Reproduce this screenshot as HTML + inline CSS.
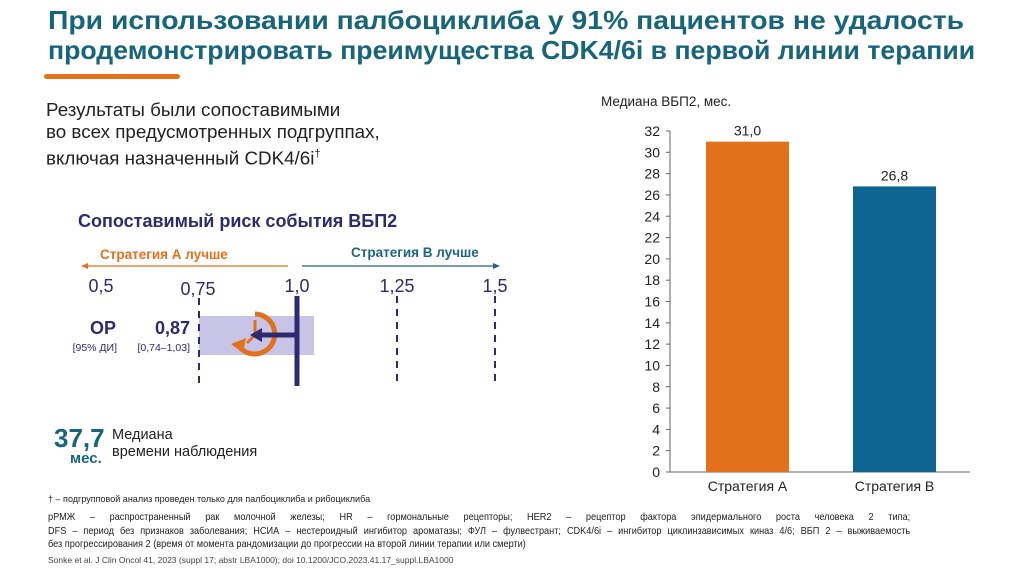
<!DOCTYPE html>
<html><head><meta charset="utf-8"><style>
body{margin:0;width:1024px;height:574px;background:#fff;position:relative;overflow:hidden;font-family:"Liberation Sans","Noto Sans CJK SC",sans-serif}
.a{position:absolute;white-space:nowrap}
.t{position:absolute;left:48px;font-size:26px;font-weight:bold;color:#17657a;transform-origin:0 0;white-space:nowrap}
.ab{display:block;text-align:justify;text-align-last:justify}
</style></head><body>
<div class="t" style="top:5px;transform:scaleX(1.09)">При использовании палбоциклиба у 91% пациентов не удалость</div>
<div class="t" style="top:35px;transform:scaleX(1.025)">продемонстрировать преимущества CDK4/6i в первой линии терапии</div>
<div class="a" style="left:44px;top:74px;width:136px;height:5px;border-radius:3px;background:#e3711b"></div>
<div class="a" style="left:46px;top:99px;font-size:18.8px;color:#222;line-height:22px">Результаты были сопоставимыми<br>во всех предусмотренных подгруппах,<br>включая назначенный CDK4/6i<sup style="font-size:11px">†</sup></div>
<div class="a" style="left:78px;top:211px;font-size:18px;font-weight:bold;color:#2e2a6e">Сопоставимый риск события ВБП2</div>
<svg class="a" style="left:0;top:0" width="1024" height="574">
<text x="100" y="259" font-size="13.5" font-weight="bold" fill="#e3711b" font-family="Liberation Sans">Стратегия А лучше</text>
<text x="351" y="257" font-size="13.5" font-weight="bold" fill="#1f6680" font-family="Liberation Sans">Стратегия В лучше</text>
<line x1="84" y1="266" x2="288" y2="266" stroke="#e3711b" stroke-width="1.2"/>
<polygon points="81,266 88,263 88,269" fill="#e3711b"/>
<line x1="302" y1="266" x2="497" y2="266" stroke="#1f6680" stroke-width="1.2"/>
<polygon points="500,266 493,263 493,269" fill="#1f6680"/>
<g font-size="18" fill="#2e2a6e" font-family="Liberation Sans" text-anchor="middle">
<text x="101" y="292">0,5</text><text x="198" y="295">0,75</text><text x="297" y="292">1,0</text><text x="397" y="292">1,25</text><text x="495" y="292">1,5</text></g>
<rect x="199" y="316" width="115" height="39" fill="#c8c4e8"/>
<g stroke="#2e2a6e" stroke-width="2" stroke-dasharray="7,6">
<line x1="199" y1="298" x2="199" y2="386"/><line x1="397" y1="296" x2="397" y2="384"/><line x1="495" y1="296" x2="495" y2="384"/></g>
<path d="M255,314 A20,20 0 1,1 238,345" fill="none" stroke="#e3711b" stroke-width="5"/>
<polygon points="231,344 246,338 243,353" fill="#e3711b"/>
<line x1="255" y1="335" x2="247" y2="343" stroke="#e3711b" stroke-width="3"/>
<line x1="255" y1="335" x2="255" y2="320" stroke="#e3711b" stroke-width="3"/>
<line x1="297" y1="335" x2="258" y2="335" stroke="#2e2a6e" stroke-width="5"/>
<polygon points="250,335 262,328 262,342" fill="#2e2a6e"/>
<rect x="294.5" y="296" width="5" height="90" fill="#2e2a6e"/>
<text x="116" y="334" font-size="18" font-weight="bold" fill="#2e2a6e" text-anchor="end" font-family="Liberation Sans">ОР</text>
<text x="117" y="351" font-size="10.5" fill="#2e2a6e" text-anchor="end" font-family="Liberation Sans">[95% ДИ]</text>
<text x="190" y="334" font-size="18" font-weight="bold" fill="#2e2a6e" text-anchor="end" font-family="Liberation Sans">0,87</text>
<text x="190" y="351" font-size="10.5" fill="#2e2a6e" text-anchor="end" font-family="Liberation Sans">[0,74–1,03]</text>
</svg>
<div class="a" style="left:54px;top:423px;font-size:26px;font-weight:bold;color:#17657a">37,7</div>
<div class="a" style="left:70px;top:450px;font-size:15px;font-weight:bold;color:#17657a">мес.</div>
<div class="a" style="left:112px;top:427px;font-size:14.5px;color:#222;line-height:17px">Медиана<br>времени наблюдения</div>
<div class="a" style="left:48px;top:494px;font-size:9.5px;color:#222;transform:scaleX(0.95);transform-origin:0 0">† – подгрупповой анализ проведен только для палбоциклиба и рибоциклиба</div>
<div class="a" style="left:48px;top:511px;width:958px;font-size:10.2px;color:#222;line-height:13.5px;white-space:nowrap;transform:scaleX(0.9);transform-origin:0 0">
<span class="ab">рРМЖ – распространенный рак молочной железы; HR – гормональные рецепторы; HER2 – рецептор фактора эпидермального роста человека 2 типа;</span>
<span class="ab">DFS – период без признаков заболевания; НСИА – нестероидный ингибитор ароматазы; ФУЛ – фулвестрант; CDK4/6i – ингибитор циклинзависимых киназ 4/6; ВБП 2 – выживаемость</span>
<span style="display:block">без прогрессирования 2 (время от момента рандомизации до прогрессии на второй линии терапии или смерти)</span></div>
<div class="a" style="left:48px;top:555px;font-size:8.5px;color:#444">Sonke et al. J Clin Oncol 41, 2023 (suppl 17; abstr LBA1000); doi 10.1200/JCO.2023.41.17_suppl.LBA1000</div>
<div class="a" style="left:601px;top:94px;font-size:13.5px;color:#222">Медиана ВБП2, мес.</div>
<svg class="a" id="chart" style="left:0;top:0" width="1024" height="574"></svg>
<script>
const categories=["Стратегия А","Стратегия В"];
const values=[31.0,26.8];
const valueLabels=["31,0","26,8"];
const yTicks=[0,2,4,6,8,10,12,14,16,18,20,22,24,26,28,30,32];
const colors=["#e3711b","#0f6591"];
const svg=document.getElementById('chart');
const NS="http://www.w3.org/2000/svg";
const y0=472,yTop=131,yMax=32,ax=670;
const y=v=>y0-(v/yMax)*(y0-yTop);
const bx=[706,853],bw=83;
function mk(t,a){const e=document.createElementNS(NS,t);for(const k in a)e.setAttribute(k,a[k]);svg.appendChild(e);return e;}
const axis=mk('line',{x1:ax,y1:yTop,x2:ax,y2:y0,stroke:'#666','stroke-width':1});


const base=mk('line',{x1:ax,y1:y0,x2:970,y2:y0,stroke:'#666','stroke-width':1});


yTicks.forEach(t=>{
 const l=mk('line',{x1:ax-4,y1:y(t),x2:ax,y2:y(t),stroke:'#666'});
 
 
 const tx=mk('text',{x:ax-10,y:y(t)+5,'text-anchor':'end','font-size':14,fill:'#222','font-family':'Liberation Sans'});
 tx.textContent=t;
 
 
});
values.forEach((v,i)=>{
 const r=mk('rect',{x:bx[i],y:y(v),width:bw,height:y0-y(v),fill:colors[i]});
 
 
 const vl=mk('text',{x:bx[i]+bw/2,y:y(v)-6,'text-anchor':'middle','font-size':14,fill:'#222','font-family':'Liberation Sans'});
 vl.textContent=valueLabels[i];
 
 
 const cl=mk('text',{x:bx[i]+bw/2,y:y0+19,'text-anchor':'middle','font-size':14,fill:'#222','font-family':'Liberation Sans'});
 cl.textContent=categories[i];
 
 
});
</script>
</body></html>
